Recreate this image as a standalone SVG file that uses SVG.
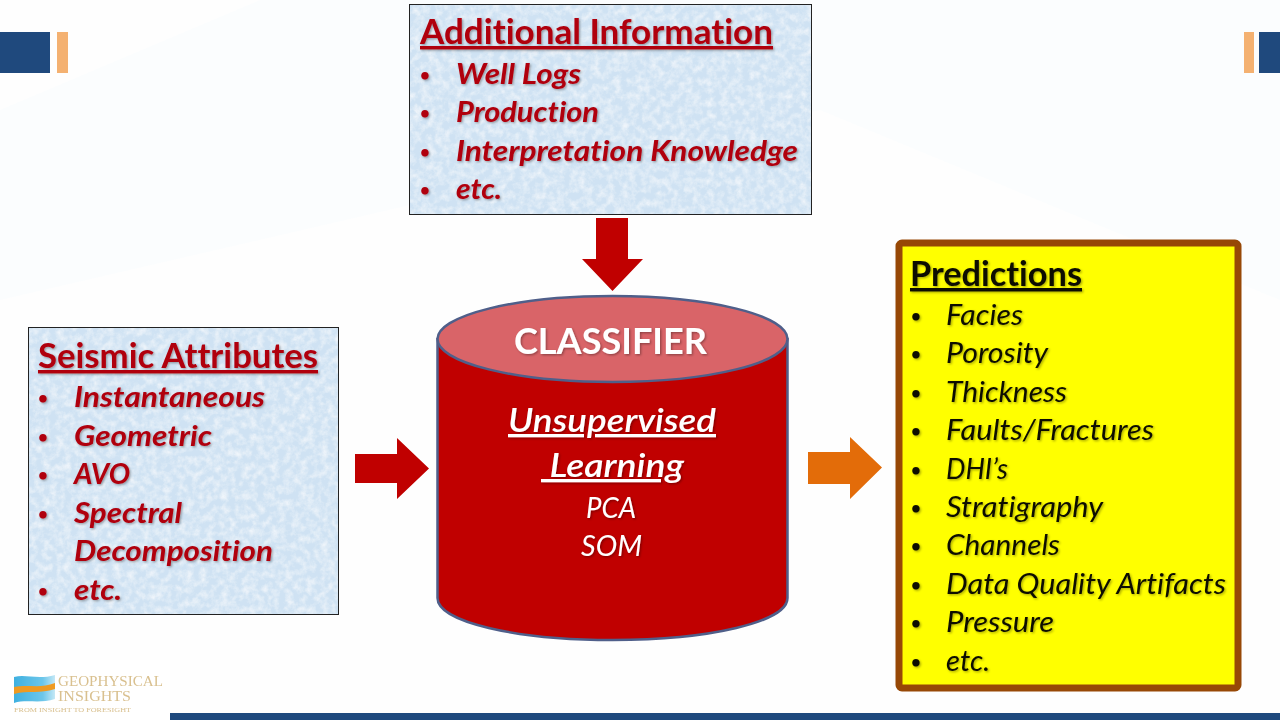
<svg xmlns="http://www.w3.org/2000/svg" width="1280" height="720" viewBox="0 0 1280 720">
<defs>
<filter id="paper" x="0" y="0" width="100%" height="100%">
<feTurbulence type="fractalNoise" baseFrequency="0.14" numOctaves="4" seed="4" result="n"/>
<feColorMatrix in="n" type="matrix" values="0 0 0 0 1  0 0 0 0 1  0 0 0 0 1  1.2 0 0 0 -0.45" result="w"/>
<feMerge><feMergeNode in="SourceGraphic"/><feMergeNode in="w"/></feMerge>
</filter>
<filter id="sh" x="-5%" y="-20%" width="110%" height="140%">
<feDropShadow dx="1.2" dy="1.2" stdDeviation="0.8" flood-color="#000" flood-opacity="0.35"/>
</filter>
<filter id="soft" x="-10%" y="-20%" width="120%" height="140%"><feGaussianBlur stdDeviation="0.5"/></filter>
<linearGradient id="wave" x1="0" y1="0" x2="1" y2="0"><stop offset="0" stop-color="#3fb0e0"/><stop offset="0.7" stop-color="#6cc6ea"/><stop offset="1" stop-color="#c5e8f6"/></linearGradient>
</defs>
<style>
text{font-family:"Lato","Carlito","Open Sans",sans-serif;font-variant-ligatures:none}
.h{font-weight:700;font-size:34px;text-decoration:underline;filter:url(#sh)}
.i{font-weight:700;font-style:italic;font-size:29px;filter:url(#sh)}
.p{font-weight:400;font-style:italic;font-size:29px;filter:url(#sh)}
.b{font-size:17px;font-style:normal;font-weight:700}
.r{fill:#b00010}
.k{fill:#111100}
.w{fill:#fff}
.paper{fill:#cfe2f3}
.edge{fill:none;stroke:#222;stroke-width:1}
.ar{fill:#c00000}
.band{fill:#1f497d}
.acc{fill:#f4b171}
.logo{font-family:"Liberation Serif",serif;fill:#d9c08f}
</style>
<rect width="1280" height="720" fill="#fefefe"/>
<path d="M0 110 L260 0 L1280 0 L1280 300 L820 110 L0 300Z" fill="#fbfdfe"/>
<rect x="0" y="660" width="170" height="60" fill="#fff"/>
<g id="decor">
<rect class="band" x="0" y="32" width="50" height="41"/>
<rect class="acc" x="57" y="32" width="11" height="41"/>
<rect class="acc" x="1244" y="32" width="10" height="41"/>
<rect class="band" x="1259" y="32" width="21" height="41"/>
<rect class="band" x="170" y="713" width="1110" height="7"/>
</g>
<g id="logo">
<g filter="url(#soft)">
<path d="M14 677 C26 674 38 680 55 675 L55 699 C40 704 26 699 14 703Z" fill="url(#wave)"/>
<path d="M14 687 C28 684 40 689 55 683 L55 689 C40 694 28 690 14 694Z" fill="#ef9a22"/>
<text class="logo" x="58" y="686" font-size="15" textLength="105" lengthAdjust="spacingAndGlyphs">GEOPHYSICAL</text>
<text class="logo" x="58" y="701" font-size="15" textLength="73" lengthAdjust="spacingAndGlyphs">INSIGHTS</text>
<text class="logo" x="14" y="712" font-size="6" textLength="117" lengthAdjust="spacingAndGlyphs">FROM INSIGHT TO FORESIGHT</text>
</g>
</g>
<g id="connectors">
<path class="ar" d="M596 218 H628 V259 H643 L612.500 291 L582 259 H596Z"/>
<path class="ar" d="M355 454 H397 V438 L429 468.500 L397 499 V483 H355Z"/>
<path fill="#e36c09" d="M808 452 H850 V437 L882 467.500 L850 499 V484 H808Z"/>
</g>
<g id="additional-information">
<rect class="paper" x="410" y="5" width="401" height="209" filter="url(#paper)"/>
<rect class="edge" x="409.500" y="4.500" width="402" height="210"/>
<text class="h r" x="420" y="44" textLength="353" lengthAdjust="spacingAndGlyphs">Additional Information</text>
<g class="i r">
<text class="b" x="420" y="81">•</text><text x="456" y="84" textLength="125" lengthAdjust="spacingAndGlyphs">Well Logs</text>
<text class="b" x="420" y="119">•</text><text x="456" y="122" textLength="143" lengthAdjust="spacingAndGlyphs">Production</text>
<text class="b" x="420" y="158">•</text><text x="456" y="161" textLength="342" lengthAdjust="spacingAndGlyphs">Interpretation Knowledge</text>
<text class="b" x="420" y="196">•</text><text x="456" y="199" textLength="46" lengthAdjust="spacingAndGlyphs">etc.</text>
</g>
</g>
<g id="seismic-attributes">
<rect class="paper" x="29" y="328" width="309" height="286" filter="url(#paper)"/>
<rect class="edge" x="28.500" y="327.500" width="310" height="287"/>
<text class="h r" x="38" y="368" textLength="280" lengthAdjust="spacingAndGlyphs">Seismic Attributes</text>
<g class="i r">
<text class="b" x="38" y="404">•</text><text x="74" y="407" textLength="191" lengthAdjust="spacingAndGlyphs">Instantaneous</text>
<text class="b" x="38" y="443">•</text><text x="74" y="446" textLength="138" lengthAdjust="spacingAndGlyphs">Geometric</text>
<text class="b" x="38" y="481">•</text><text x="74" y="484" textLength="56" lengthAdjust="spacingAndGlyphs">AVO</text>
<text class="b" x="38" y="520">•</text><text x="74" y="523" textLength="108" lengthAdjust="spacingAndGlyphs">Spectral</text>
<text x="74" y="561" textLength="199" lengthAdjust="spacingAndGlyphs">Decomposition</text>
<text class="b" x="38" y="597">•</text><text x="74" y="600" textLength="48" lengthAdjust="spacingAndGlyphs">etc.</text>
</g>
</g>
<g id="classifier">
<path d="M437.500 339 V598 C437.500 622 516 640 612.500 640 C709 640 787.500 622 787.500 598 V339Z" fill="#c00000" stroke="#4f5f8a" stroke-width="2.500"/>
<ellipse cx="612.500" cy="339" rx="175" ry="43" fill="#d96468" stroke="#4f5f8a" stroke-width="2.500"/>
<text class="w" x="514" y="354" textLength="193" lengthAdjust="spacingAndGlyphs" style="font-weight:700;font-size:36px;filter:url(#sh)">CLASSIFIER</text>
<text class="i w" x="508" y="432" textLength="208" lengthAdjust="spacingAndGlyphs" style="font-size:33px;font-weight:600;text-decoration:underline">Unsupervised</text>
<text class="i w" x="541" y="477" textLength="143" lengthAdjust="spacingAndGlyphs" style="font-size:33px;font-weight:600;text-decoration:underline;white-space:pre"> Learning</text>
<text class="p w" x="586" y="518" textLength="50" lengthAdjust="spacingAndGlyphs">PCA</text>
<text class="p w" x="581" y="556" textLength="61" lengthAdjust="spacingAndGlyphs">SOM</text>
</g>
<g id="predictions">
<rect x="899" y="243" width="339" height="445" rx="3" fill="#ffff00" stroke="#974806" stroke-width="7"/>
<text class="h k" x="910" y="286" textLength="172" lengthAdjust="spacingAndGlyphs">Predictions</text>
<g class="p k">
<text class="b" x="911" y="322">•</text><text x="946" y="325" textLength="77" lengthAdjust="spacingAndGlyphs">Facies</text>
<text class="b" x="911" y="360">•</text><text x="946" y="363" textLength="102" lengthAdjust="spacingAndGlyphs">Porosity</text>
<text class="b" x="911" y="399">•</text><text x="946" y="402" textLength="121" lengthAdjust="spacingAndGlyphs">Thickness</text>
<text class="b" x="911" y="437">•</text><text x="946" y="440" textLength="208" lengthAdjust="spacingAndGlyphs">Faults/Fractures</text>
<text class="b" x="911" y="476">•</text><text x="946" y="479" textLength="62" lengthAdjust="spacingAndGlyphs">DHI’s</text>
<text class="b" x="911" y="514">•</text><text x="946" y="517" textLength="157" lengthAdjust="spacingAndGlyphs">Stratigraphy</text>
<text class="b" x="911" y="552">•</text><text x="946" y="555" textLength="114" lengthAdjust="spacingAndGlyphs">Channels</text>
<text class="b" x="911" y="591">•</text><text x="946" y="594" textLength="280" lengthAdjust="spacingAndGlyphs">Data Quality Artifacts</text>
<text class="b" x="911" y="629">•</text><text x="946" y="632" textLength="108" lengthAdjust="spacingAndGlyphs">Pressure</text>
<text class="b" x="911" y="668">•</text><text x="946" y="671" textLength="44" lengthAdjust="spacingAndGlyphs">etc.</text>
</g>
</g>
</svg>
